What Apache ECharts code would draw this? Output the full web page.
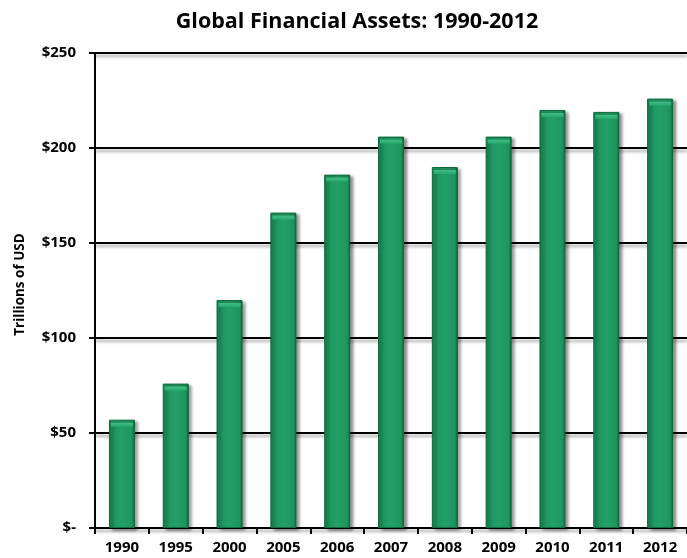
<!DOCTYPE html>
<html>
<head>
<meta charset="utf-8">
<script src="https://cdn.jsdelivr.net/npm/echarts@6/dist/echarts.min.js"></script>
<style>
  html, body { margin: 0; padding: 0; background: #fff; }
  #chart { width: 687px; height: 558px; }
</style>
</head>
<body>
<div id="chart"></div>
<script>
// Global financial assets, trillions of USD
const years = ['1990', '1995', '2000', '2005', '2006', '2007', '2008', '2009', '2010', '2011', '2012'];
const assets = [57, 76, 120, 166, 186, 206, 190, 206, 220, 219, 226];
const yTicks = [0, 50, 100, 150, 200, 250];

const FONT = '"Open Sans", Lato, sans-serif';

const chart = echarts.init(document.getElementById('chart'));
chart.setOption({
  animation: false,
  title: {
    text: 'Global Financial Assets: 1990-2012',
    left: 352,
    top: 6,
    textAlign: 'center',
    textStyle: { fontFamily: FONT, fontWeight: 'bold', fontSize: 21.5, color: '#000' }
  },
  grid: { left: 95, right: 0, top: 53, bottom: 30, containLabel: false },
  xAxis: {
    type: 'category',
    data: years,
    axisLine: { lineStyle: { color: '#000', width: 2 } },
    axisTick: { show: true, length: 6, lineStyle: { color: '#000', width: 2 } },
    axisLabel: { fontFamily: FONT, fontWeight: 'bold', fontSize: 15, color: '#000', margin: 12 }
  },
  yAxis: {
    type: 'value',
    min: yTicks[0],
    max: yTicks[yTicks.length - 1],
    interval: 50,
    name: 'Trillions of USD',
    nameLocation: 'middle',
    nameGap: 68,
    nameTextStyle: { fontFamily: FONT, fontWeight: 'bold', fontSize: 13.5, color: '#000', padding: [0, 0, 0, 12] },
    axisLine: { show: true, lineStyle: { color: '#000', width: 2 } },
    axisTick: { show: true, length: 6, lineStyle: { color: '#000', width: 2 } },
    axisLabel: {
      fontFamily: FONT, fontWeight: 'bold', fontSize: 15, color: '#000', margin: 19,
      formatter: v => v === 0 ? '$-' : '$' + v
    },
    splitLine: {
      show: true,
      lineStyle: {
        color: '#000', width: 2,
        shadowColor: 'rgba(0,0,0,0.35)', shadowBlur: 3, shadowOffsetY: 3
      }
    }
  },
  series: [
    {
      type: 'bar',
      data: assets,
      barWidth: 26,
      itemStyle: {
        color: new echarts.graphic.LinearGradient(0, 0, 1, 0, [
          { offset: 0, color: '#137445' },
          { offset: 0.12, color: '#1e955f' },
          { offset: 0.5, color: '#23a067' },
          { offset: 0.88, color: '#1e955f' },
          { offset: 1, color: '#10663c' }
        ]),
        borderColor: '#0f6a3c',
        borderWidth: 1,
        shadowColor: 'rgba(0,0,0,0.45)',
        shadowBlur: 3,
        shadowOffsetX: 3,
        shadowOffsetY: 2
      },
      z: 2
    },
    {
      // bevelled cap on top of each bar
      type: 'pictorialBar',
      data: assets,
      symbol: 'rect',
      symbolSize: [22, 4],
      symbolPosition: 'end',
      symbolOffset: [0, 3],
      itemStyle: {
        color: new echarts.graphic.LinearGradient(0, 0, 0, 1, [
          { offset: 0, color: '#3fbf85' },
          { offset: 1, color: '#28a86c' }
        ])
      },
      z: 3,
      silent: true
    }
  ]
});
</script>
</body>
</html>
